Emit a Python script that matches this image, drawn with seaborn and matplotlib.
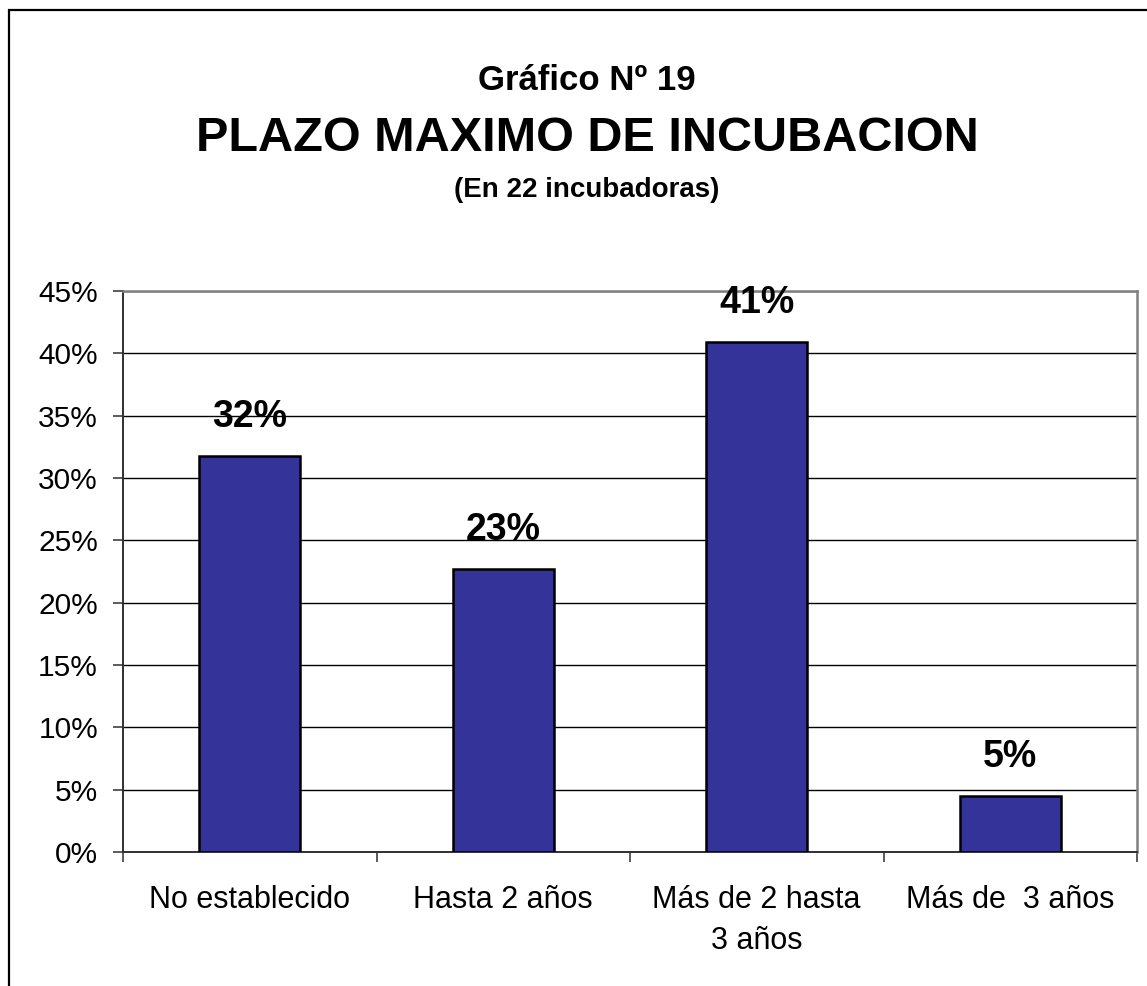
import matplotlib
matplotlib.use("Agg")
import matplotlib.pyplot as plt
import seaborn as sns
import pandas as pd
from matplotlib.patches import Rectangle
from matplotlib.ticker import FixedLocator, PercentFormatter

# data (share of 22 incubators, in %)
categories = ["No establecido", "Hasta 2 años", "Más de 2 hasta\n3 años", "Más de  3 años"]
values = [31.8, 22.7, 40.9, 4.5]
value_labels = ["32%", "23%", "41%", "5%"]
y_ticks = [0, 5, 10, 15, 20, 25, 30, 35, 40, 45]

sns.set_style("white")
plt.rcParams["font.family"] = ["Liberation Sans", "DejaVu Sans"]
plt.rcParams["text.color"] = "black"
plt.rcParams["xtick.labelcolor"] = "black"
plt.rcParams["ytick.labelcolor"] = "black"

df = pd.DataFrame({"plazo": categories, "pct": values})

fig = plt.figure(figsize=(11.47, 9.86), dpi=100)
ax = fig.add_axes([123 / 1147, 1 - 852 / 986, (1137 - 123) / 1147, (852 - 291) / 986])

sns.barplot(data=df, x="plazo", y="pct", color="#333399", saturation=1,
            width=0.4, edgecolor="black", linewidth=1.8, ax=ax, zorder=3)

ax.bar_label(ax.containers[0], labels=value_labels, padding=15,
             fontsize=27, fontweight="bold", color="black")

#axes
ax.set_ylim(0, 45)
ax.set_xlim(-0.5, len(categories) - 0.5)
ax.set_yticks(y_ticks)
ax.yaxis.set_major_formatter(PercentFormatter(decimals=0))
ax.yaxis.grid(True, color="black", linewidth=1.0, zorder=0)
ax.set_xlabel("")
ax.set_ylabel("")

ax.xaxis.set_minor_locator(FixedLocator([i - 0.5 for i in range(len(categories) + 1)]))
ax.tick_params(axis="x", which="major", length=0, pad=24, labelsize=22)
ax.tick_params(axis="x", which="minor", length=7, width=1.2, color="#404040", direction="out", bottom=True)
ax.tick_params(axis="y", which="major", length=7, width=1.2, color="#404040", direction="out",
               left=True, pad=11, labelsize=21.5)
for lab in ax.get_xticklabels():
    lab.set_linespacing(1.45)

for side in ["left", "bottom"]:
    ax.spines[side].set_color("#303030")
    ax.spines[side].set_linewidth(1.4)
for side in ["top", "right"]:
    ax.spines[side].set_color("#808080")
    ax.spines[side].set_linewidth(1.8)

# titles
fig.text(587 / 1147, 1 - 80 / 986, "Gráfico Nº 19", ha="center", va="center",
         fontsize=25, fontweight="bold")
fig.text(587 / 1147, 1 - 139 / 986, "PLAZO MAXIMO DE INCUBACION", ha="center", va="center",
         fontsize=35, fontweight="bold")
fig.text(587 / 1147, 1 - 190 / 986, "(En 22 incubadoras)", ha="center", va="center",
         fontsize=20, fontweight="bold")

# chart border (cut off on right and bottom)
fig.patches.append(Rectangle((9 / 1147, -0.05), 1.1, 1 - 10 / 986 + 0.05,
                             transform=fig.transFigure, fill=False,
                             edgecolor="black", linewidth=1.6))

fig.savefig("out.png", dpi=100)
